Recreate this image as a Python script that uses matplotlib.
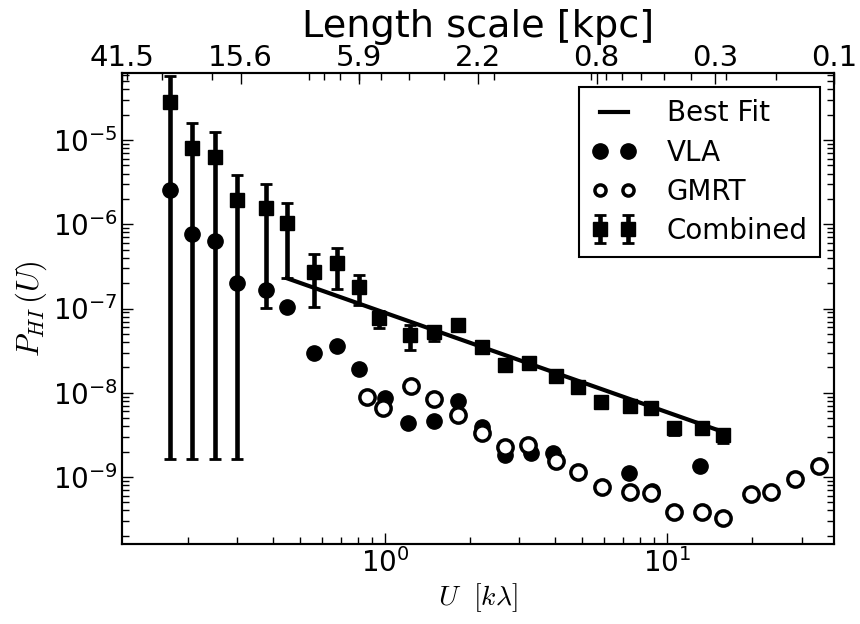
import numpy as np
import matplotlib
matplotlib.use("Agg")
import matplotlib.pyplot as plt
from matplotlib.lines import Line2D
from matplotlib.ticker import LogLocator, NullFormatter

plt.rcParams['font.family'] = ['DejaVu Sans']
plt.rcParams['mathtext.fontset'] = 'cm'
plt.rcParams['axes.linewidth'] = 1.5
plt.rcParams['axes.unicode_minus'] = False

# ---------------- data ----------------
# Combined power spectrum (squares with error bars)
comb_U = [0.173, 0.207, 0.249, 0.299, 0.379, 0.449, 0.560, 0.676, 0.809, 0.953,
          1.227, 1.492, 1.815, 2.208, 2.665, 3.243, 4.04, 4.83, 5.83, 7.39,
          8.78, 10.59, 13.31, 15.80]
comb_P = [2.82e-5, 8.04e-6, 6.28e-6, 1.94e-6, 1.56e-6, 1.04e-6, 2.71e-7, 3.47e-7,
          1.80e-7, 7.71e-8, 4.84e-8, 5.26e-8, 6.37e-8, 3.49e-8, 2.13e-8, 2.25e-8,
          1.58e-8, 1.17e-8, 7.76e-9, 6.96e-9, 6.59e-9, 3.82e-9, 3.82e-9, 3.15e-9]
comb_hi = [5.75e-5, 1.59e-5, 1.24e-5, 3.85e-6, 3.01e-6, 1.79e-6, 4.44e-7, 5.22e-7,
           2.50e-7, 9.33e-8, 6.37e-8, 6.03e-8, 6.7e-8, 3.7e-8, 2.25e-8, 2.38e-8,
           1.67e-8, 1.24e-8, 8.2e-9, 7.35e-9, 6.95e-9, 4.1e-9, 4.05e-9, 3.4e-9]
comb_lo = [1.64e-9, 1.64e-9, 1.64e-9, 1.64e-9, 1.01e-7, 2.30e-7, 1.04e-7, 1.70e-7,
           1.10e-7, 5.87e-8, 3.21e-8, 4.11e-8, 6.0e-8, 3.25e-8, 1.95e-8, 2.1e-8,
           1.48e-8, 1.08e-8, 6.9e-9, 6.5e-9, 6.2e-9, 3.15e-9, 3.55e-9, 2.54e-9]

# VLA (filled circles)
vla_U = [0.173, 0.207, 0.249, 0.299, 0.379, 0.449, 0.560, 0.676, 0.809, 1.0,
         1.208, 1.492, 1.815, 2.208, 2.665, 3.296, 3.945, 7.33, 8.85, 13.09]
vla_P = [2.55e-6, 7.66e-7, 6.32e-7, 2.01e-7, 1.66e-7, 1.04e-7, 2.96e-8, 3.59e-8,
         1.91e-8, 8.67e-9, 4.38e-9, 4.62e-9, 7.98e-9, 3.92e-9, 1.82e-9, 1.93e-9,
         1.93e-9, 1.11e-9, 6.82e-10, 1.35e-9]

# GMRT (open circles)
gmrt_U = [0.863, 0.984, 1.236, 1.492, 1.815, 2.208, 2.665, 3.214, 4.04, 4.83,
          5.89, 7.39, 8.78, 10.59, 13.31, 15.80, 19.86, 23.38, 28.44, 34.59]
gmrt_P = [8.91e-9, 6.59e-9, 1.20e-8, 8.43e-9, 5.44e-9, 3.33e-9, 2.27e-9, 2.40e-9,
          1.55e-9, 1.15e-9, 7.61e-10, 6.64e-10, 6.46e-10, 3.85e-10, 3.85e-10,
          3.26e-10, 6.28e-10, 6.64e-10, 9.46e-10, 1.35e-9]

# Best-fit power law P = A * U**index over [fit_Umin, fit_Umax]
fit_A = 8.9e-8
fit_index = -1.18
fit_Umin, fit_Umax = 0.449, 15.8

# Top axis: length scale [kpc] = scale_const / U[k lambda]
scale_const = 4.86
top_labels = ['41.5', '15.6', '5.9', '2.2', '0.8', '0.3', '0.1']

U_lim = (0.117, 39.1)
P_lim = (1.6e-10, 6.25e-5)

# ---------------- plot ----------------
fig = plt.figure(figsize=(8.6, 6.24), dpi=100)
ax = fig.add_axes([0.1419, 0.1282, 0.8279, 0.7548])

Uf = np.geomspace(fit_Umin, fit_Umax, 50)
ax.plot(Uf, fit_A * Uf ** fit_index, color='k', lw=3, zorder=3)

ax.plot(vla_U, vla_P, 'o', color='k', ms=11, ls='none', zorder=4)
ax.plot(gmrt_U, gmrt_P, 'o', mfc='white', mec='k', mew=2.5, ms=11, ls='none', zorder=4)

comb_P_a = np.array(comb_P)
yerr = [comb_P_a - np.array(comb_lo), np.array(comb_hi) - comb_P_a]
eb = ax.errorbar(comb_U, comb_P, yerr=yerr, fmt='s', color='k', ms=10.5,
                 elinewidth=3.3, capsize=4, capthick=2, zorder=5)

ax.set_xscale('log')
ax.set_yscale('log')
ax.set_xlim(*U_lim)
ax.set_ylim(*P_lim)

ax.tick_params(which='both', direction='in', right=True, labelsize=20, pad=3)
ax.tick_params(which='major', length=8, width=1)
ax.tick_params(which='minor', length=5, width=1)

ax.set_xlabel(r'$U\ \ [k\lambda]$', fontsize=20, labelpad=2)
ax.set_ylabel(r'$P_{HI}\,(U)$', fontsize=22, labelpad=3)

vla_h = Line2D([], [], marker='o', color='k', ls='none', ms=11)
gmrt_h = Line2D([], [], marker='o', mfc='white', mec='k', mew=2.5, ms=8, ls='none')
fit_h = Line2D([], [], color='k', lw=3)
leg = ax.legend([fit_h, vla_h, gmrt_h, eb], ['Best Fit', 'VLA', 'GMRT', 'Combined'],
                loc='upper right', numpoints=2, fontsize=20, fancybox=False,
                edgecolor='k', framealpha=1, borderpad=0.45, labelspacing=0.4,
                handlelength=1.6, handletextpad=1.1, borderaxespad=0.5)
leg.get_frame().set_linewidth(1.5)

# top axis: length scale
ax2 = ax.twiny()
ax2.set_xscale('log')
ax2.set_xlim(scale_const / U_lim[0], scale_const / U_lim[1])
top_pos = scale_const / np.geomspace(U_lim[0], U_lim[1], len(top_labels))
ax2.set_xticks(top_pos)
ax2.set_xticklabels(top_labels, fontsize=21)
ax2.xaxis.set_minor_locator(LogLocator(base=10, subs=np.arange(2, 10)))
ax2.xaxis.set_minor_formatter(NullFormatter())
ax2.tick_params(which='both', direction='in', pad=1)
ax2.tick_params(which='major', length=8, width=1)
ax2.tick_params(which='minor', length=5, width=1)
ax2.set_xlabel('Length scale [kpc]', fontsize=27.5, labelpad=5)

fig.savefig('out.png', dpi=100)
